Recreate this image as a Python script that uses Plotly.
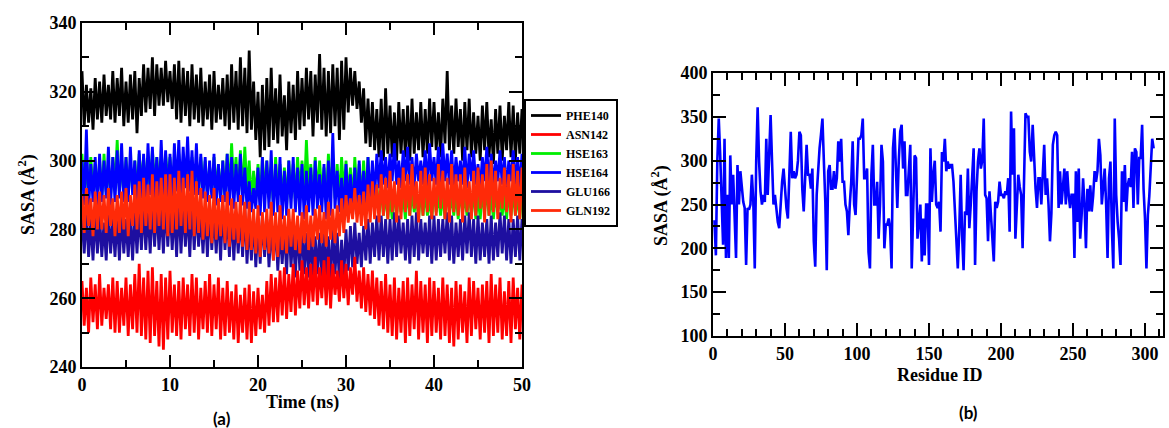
import numpy as np
import plotly.graph_objects as go

# ---------------- Panel (a): SASA vs time (values alternate upper/lower excursions, 0.25 ns apart) -----
time_step_ns = 0.25

phe140 = [326,310,322,311, 321,309,324,312, 323,311,325,313, 322,312,326,311, 324,313,327,310,
          323,311,325,312, 326,308,324,313, 328,314,327,315, 330,313,328,316, 327,316,329,317,
          326,315,328,312, 329,311,327,313, 326,310,328,312, 325,311,327,310, 323,312,325,309,
          326,311,322,312, 324,310,325,309, 328,311,326,309, 330,310,327,308, 332,309,323,306,
          320,301,322,303, 324,304,327,306, 321,305,325,307, 319,303,323,308, 322,306,326,309,
          324,310,327,312, 326,307,325,311, 331,309,327,307, 326,308,328,310, 327,306,329,309,
          330,314,327,316, 326,315,323,311, 321,305,318,304, 317,303,315,301, 318,300,321,302,
          316,301,314,300, 317,302,315,301, 316,300,318,302, 314,303,317,301, 315,302,318,304,
          317,303,314,301, 318,305,326,303, 316,302,318,304, 315,300,317,303, 318,301,314,302,
          313,300,316,303, 317,301,312,299, 315,302,316,300, 313,303,317,301, 316,300,314,302, 315]

hse163 = [302,290,300,289, 301,291,299,290, 300,289,302,291, 299,290,301,292, 306,291,300,290,
          301,292,299,291, 300,290,302,293, 301,292,300,291, 303,293,301,292, 300,292,302,294,
          301,293,299,292, 302,291,300,293, 300,292,301,290, 299,291,301,292, 300,290,298,291,
          301,291,299,289, 300,290,302,291, 305,292,301,290, 303,289,304,291, 300,288,297,289,
          299,288,301,290, 300,289,298,287, 301,290,299,288, 298,287,300,289, 299,288,301,290,
          300,289,306,291, 299,288,301,290, 300,290,298,288, 302,291,300,289, 299,288,301,290,
          300,289,298,287, 301,290,299,288, 300,289,301,288, 296,286,293,285, 292,284,291,283,
          290,283,292,284, 291,285,290,283, 292,284,291,285, 290,283,292,284, 291,284,289,283,
          292,285,290,284, 291,283,292,285, 290,284,291,283, 292,285,290,284, 291,284,292,283,
          290,283,291,285, 292,284,290,283, 291,285,289,284, 290,283,292,284, 291,284,290,283, 291]

hse164 = [300,287,309,286, 299,288,301,287, 302,288,300,289, 304,287,301,288, 303,289,305,288,
          301,288,304,290, 300,287,303,289, 302,288,305,290, 304,289,301,288, 306,290,303,289,
          302,289,305,291, 306,290,304,292, 307,291,303,290, 305,290,302,289, 301,288,300,289,
          302,287,299,288, 300,288,302,287, 301,286,299,288, 302,287,298,286, 294,285,292,286,
          298,284,301,285, 300,286,303,284, 299,285,301,283, 297,284,300,286, 301,285,298,284,
          299,283,297,285, 298,284,300,286, 296,285,299,283, 300,284,308,286, 297,285,295,284,
          299,286,296,284, 298,285,300,286, 297,286,301,288, 300,289,302,292, 303,293,301,292,
          302,294,305,293, 300,292,303,294, 304,293,301,292, 302,294,300,293, 303,292,305,294,
          301,293,304,292, 305,294,302,293, 303,292,301,294, 300,293,304,292, 302,294,303,293,
          299,292,301,294, 304,293,302,292, 300,294,303,293, 301,292,300,294, 303,293,301,292, 302]

glu166 = [284,273,285,272, 283,271,285,273, 284,272,282,271, 285,273,283,272, 284,271,285,273,
          283,272,284,271, 285,273,286,274, 287,274,286,273, 288,275,287,274, 286,273,288,275,
          287,274,286,272, 288,273,287,275, 286,272,288,274, 287,275,285,273, 286,272,287,274,
          285,273,286,271, 287,274,285,272, 286,271,284,273, 285,272,287,270, 283,271,284,269,
          282,270,284,272, 283,269,281,271, 282,268,280,270, 281,267,283,269, 280,266,282,268,
          281,267,279,266, 280,265,278,267, 279,266,281,265, 278,265,280,267, 279,264,277,266,
          280,268,281,269, 282,270,279,269, 281,271,283,270, 282,272,284,271, 284,272,283,270,
          283,271,285,272, 284,273,282,271, 283,270,284,272, 285,271,283,273, 282,272,284,270,
          284,271,283,272, 283,273,285,271, 284,270,282,272, 283,271,284,273, 285,272,283,270,
          284,271,282,272, 283,270,284,271, 282,272,285,273, 284,271,283,270, 283,272,284,271, 283]

gln192 = [290,279,292,281, 289,278,291,280, 291,280,290,279, 292,281,289,278, 290,279,291,280,
          292,278,290,281, 293,280,294,279, 295,281,293,280, 296,279,294,281, 295,280,296,278,
          296,279,295,280, 297,281,295,279, 296,280,297,278, 294,279,292,277, 291,278,290,276,
          292,277,289,278, 290,276,291,275, 289,277,288,276, 290,275,288,274, 288,274,286,273,
          287,272,285,274, 286,273,288,271, 285,272,287,274, 284,273,286,275, 286,274,284,273,
          285,276,287,274, 284,275,286,277, 287,276,285,275, 288,277,286,276, 287,278,289,279,
          290,282,289,283, 292,282,290,281, 291,280,293,282, 294,283,293,282, 296,284,295,283,
          297,285,294,282, 295,283,298,285, 296,284,299,286, 294,282,297,284, 298,285,296,283,
          295,284,299,286, 297,283,295,282, 299,285,296,284, 296,282,298,285, 294,283,297,284,
          298,286,296,282, 299,284,300,285, 297,283,295,286, 298,285,296,282, 299,284,297,283, 298]

asn142 = [265,252,263,250, 266,253,264,251, 267,252,263,254, 264,251,266,250, 265,250,263,252,
          266,249,264,251, 267,250,270,249, 266,248,268,247, 269,249,265,246, 267,245,266,248,
          268,250,264,249, 265,248,266,251, 264,249,267,250, 266,248,263,251, 265,250,267,249,
          264,251,266,248, 263,249,265,250, 262,248,264,247, 261,250,263,248, 264,247,262,249,
          263,251,261,250, 265,252,267,253, 266,253,268,255, 269,254,267,256, 270,255,268,257,
          271,258,269,257, 270,259,272,258, 269,260,271,258, 272,257,270,261, 268,259,271,260,
          270,258,269,261, 272,259,268,257, 269,256,267,255, 268,254,266,252, 265,251,267,250,
          264,249,266,248, 263,250,265,247, 266,249,264,251, 268,248,265,250, 264,247,266,249,
          265,250,263,248, 266,249,264,247, 263,246,265,248, 264,250,262,247, 266,249,265,251,
          263,248,264,250, 265,247,267,249, 264,250,266,248, 262,249,265,247, 266,251,263,248, 264]

# ---------------- Panel (b): SASA per residue ----------------
residue_sasa = [
    232,192,300,348,306,250,204,325,189,261, 189,306,250,284,230,189,295,250,288,265,
    253,246,181,246,244,250,284,253,177,299, 361,299,265,250,261,253,325,261,320,352,
    299,250,261,246,230,223,257,276,291,262, 246,234,280,333,280,288,280,284,300,333,
    329,268,242,276,318,284,284,268,291,208, 179,261,290,314,330,348,299,253,175,288,
    295,268,268,288,268,280,322,299,325,276, 276,250,242,215,250,276,322,250,238,280,
    325,325,329,348,280,280,291,196,177,284, 318,250,250,276,211,250,318,299,200,227,
    227,234,223,177,314,337,299,246,300,333, 341,291,322,261,261,291,318,177,238,306,
    303,211,230,250,185,234,192,250,250,181, 314,253,284,300,250,246,253,219,310,299,
    325,288,299,291,295,295,276,246,219,177, 220,284,215,175,242,238,291,223,250,284,
    314,181,265,299,314,291,300,348,261,257, 208,265,240,204,185,253,246,253,276,261,
    261,257,265,261,280,219,356,284,337,211, 242,284,270,261,200,280,354,350,350,310,
    299,341,295,268,246,280,280,250,284,318, 261,280,250,208,240,318,329,333,329,246,
    288,250,270,291,250,288,261,246,261,261, 189,288,230,291,211,238,280,250,200,268,
    242,272,242,260,288,276,288,325,306,250, 270,291,250,189,280,299,223,177,348,261,
    230,211,181,288,253,295,242,272,280,270, 310,246,314,310,250,303,303,341,268,234,
    177,238,260,288,325,314]
residue_ids = list(range(1, len(residue_sasa) + 1))

series_a = [  # name, values, colour, legend position
    ("PHE140", phe140, "#000000", 1),
    ("HSE163", hse163, "#00ee00", 3),
    ("HSE164", hse164, "#0000ff", 4),
    ("GLU166", glu166, "#1e0fa0", 5),
    ("GLN192", gln192, "#ff2a08", 6),
    ("ASN142", asn142, "#ff0000", 2),
]

W, H = 1169, 428
def px_x(p): return p / W
def px_y(p): return 1 - p / H

fig = go.Figure()
for name, vals, col, rank in series_a:
    t = np.arange(len(vals)) * time_step_ns
    fig.add_trace(go.Scatter(x=t, y=vals, mode="lines", name=name, legendrank=rank,
                             line=dict(color=col, width=2.8), xaxis="x", yaxis="y"))

fig.add_trace(go.Scatter(x=residue_ids, y=residue_sasa, mode="lines", showlegend=False,
                         line=dict(color="#0000ff", width=2.6), xaxis="x2", yaxis="y2"))

serif = "Liberation Serif"
tickfont = dict(family=serif, size=18, color="black", weight="bold")
common = dict(showline=True, linewidth=2, linecolor="black", mirror="ticks",
              ticks="inside", tickwidth=2, tickcolor="black", showgrid=False,
              zeroline=False, tickfont=tickfont, automargin=False)

fig.update_layout(
    width=W, height=H, margin=dict(l=0, r=0, t=0, b=0, pad=0, autoexpand=False),
    paper_bgcolor="white", plot_bgcolor="white",
    xaxis=dict(domain=[px_x(82), px_x(522)], range=[0, 50], dtick=10, ticklen=12,
               minor=dict(dtick=5, ticklen=7, ticks="inside", tickwidth=2, tickcolor="black"),
               anchor="y", **common),
    yaxis=dict(domain=[px_y(367), px_y(23)], range=[240, 340], dtick=20, ticklen=13,
               minor=dict(dtick=10, ticklen=7, ticks="inside", tickwidth=2, tickcolor="black"),
               anchor="x", **common),
    xaxis2=dict(domain=[px_x(713), px_x(1163)], range=[0, 312.5], dtick=50, ticklen=13,
                minor=dict(dtick=10, ticklen=7, ticks="inside", tickwidth=2, tickcolor="black"),
                anchor="y2", **common),
    yaxis2=dict(domain=[px_y(336), px_y(73)], range=[100, 400], dtick=50, ticklen=13,
                minor=dict(dtick=25, ticklen=7, ticks="inside", tickwidth=2, tickcolor="black"),
                anchor="x2", **common),
    legend=dict(x=px_x(524), y=px_y(99), xanchor="left", yanchor="top",
                bordercolor="black", borderwidth=2, bgcolor="white",
                font=dict(family=serif, size=12, color="black", weight="bold"),
                itemwidth=30, tracegroupgap=0, traceorder="normal"),
    showlegend=True,
)

ann = [
    dict(text="<b>Time (ns)</b>", x=px_x(302), y=px_y(402), font=dict(family=serif, size=18)),
    dict(text="<b>SASA (Å<sup>2</sup>)</b>", x=px_x(27), y=px_y(195), textangle=-90,
         font=dict(family=serif, size=18)),
    dict(text="<b>(a)</b>", x=px_x(222), y=px_y(418), font=dict(family="Lato", size=17)),
    dict(text="<b>Residue ID</b>", x=px_x(940), y=px_y(375), font=dict(family=serif, size=18)),
    dict(text="<b>SASA (Å<sup>2</sup>)</b>", x=px_x(660), y=px_y(205), textangle=-90,
         font=dict(family=serif, size=18)),
    dict(text="<b>(b)</b>", x=px_x(968), y=px_y(412), font=dict(family="Lato", size=17)),
]
for a in ann:
    a.update(xref="paper", yref="paper", showarrow=False, xanchor="center", yanchor="middle")
    a["font"]["color"] = "black"
fig.update_layout(annotations=ann)

fig.write_html("out.html")
